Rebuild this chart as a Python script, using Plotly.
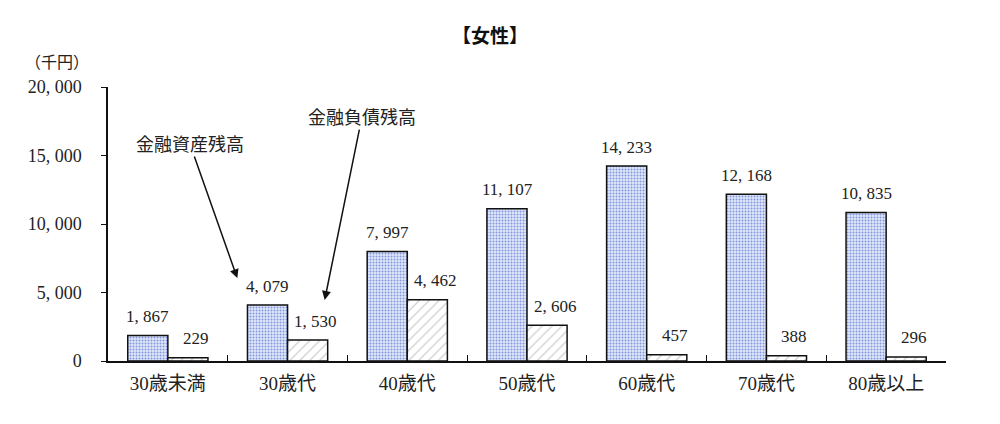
import plotly.graph_objects as go

# 年齢階級別（女性）の金融資産・負債残高（千円）
categories = ["30歳未満", "30歳代", "40歳代", "50歳代", "60歳代", "70歳代", "80歳以上"]
assets = [1867, 4079, 7997, 11107, 14233, 12168, 10835]
debts = [229, 1530, 4462, 2606, 457, 388, 296]
y_ticks = [0, 5000, 10000, 15000, 20000]

font_family = "Liberation Serif, Noto Sans CJK JP, serif"


def fmt(v):
    # 元の図の「1, 867」のような区切り
    return f"{v:,}".replace(",", ", ")


fig = go.Figure()

fig.add_trace(go.Bar(
    x=categories, y=assets, name="金融資産残高",
    marker=dict(color="#dfe6f7", line=dict(color="#111111", width=1.5),
                pattern=dict(shape=".", fgcolor="#2346c8", bgcolor="#e0e7f8",
                             size=3, solidity=0.35)),
))

fig.add_trace(go.Bar(
    x=categories, y=debts, name="金融負債残高",
    marker=dict(color="white", line=dict(color="#111111", width=1.5),
                pattern=dict(shape="/", fgcolor="#888888", bgcolor="white",
                             size=7, solidity=0.15)),
))

# 棒の上の数値（元の図は棒から少し離れている）
for cat, a, d in zip(categories, assets, debts):
    fig.add_annotation(x=cat, y=a, text=fmt(a), showarrow=False,
                       xshift=-20, yshift=19, yanchor="middle",
                       font=dict(size=17, color="#222222"))
    fig.add_annotation(x=cat, y=d, text=fmt(d), showarrow=False,
                       xshift=28, yshift=19, yanchor="middle",
                       font=dict(size=17, color="#222222"))

# 矢印付きの系列ラベル
fig.add_annotation(x=0.58, y=6050, ax=-47, ay=-133, text="金融資産残高",
                   showarrow=True, arrowhead=2, arrowsize=1.2, arrowwidth=1.5,
                   arrowcolor="#111111", font=dict(size=18, color="#222222"))
fig.add_annotation(x=1.31, y=4450, ax=37, ay=-182, text="金融負債残高",
                   showarrow=True, arrowhead=2, arrowsize=1.2, arrowwidth=1.5,
                   arrowcolor="#111111", font=dict(size=18, color="#222222"))

fig.add_annotation(x=-0.061, y=1.09, xref="paper", yref="paper", xanchor="center",
                   yanchor="middle", text="（千円）", showarrow=False,
                   font=dict(size=16, color="#222222"))

fig.update_layout(
    title=dict(text="<b>【女性】</b>", x=0.482, xanchor="center", y=0.932,
               yanchor="middle", font=dict(size=19, color="#111111")),
    width=1000, height=424,
    margin=dict(l=100, r=62, t=79, b=71),
    paper_bgcolor="white", plot_bgcolor="white",
    font=dict(family=font_family, size=14, color="#222222"),
    showlegend=False,
    barmode="group", bargap=0.33, bargroupgap=0,
    xaxis=dict(showline=True, linecolor="#111111", linewidth=1.5,
               ticks="inside", tickson="boundaries", ticklen=6,
               tickcolor="#111111", ticklabelstandoff=4, tickfont=dict(size=19)),
    yaxis=dict(range=[0, 20000], tickvals=y_ticks,
               ticktext=[fmt(v) for v in y_ticks],
               showline=True, linecolor="#111111", linewidth=1.5,
               ticks="outside", ticklen=5, tickcolor="#111111",
               ticklabelstandoff=16,
               showgrid=False, zeroline=False, tickfont=dict(size=18)),
)

fig.write_html("out.html")
